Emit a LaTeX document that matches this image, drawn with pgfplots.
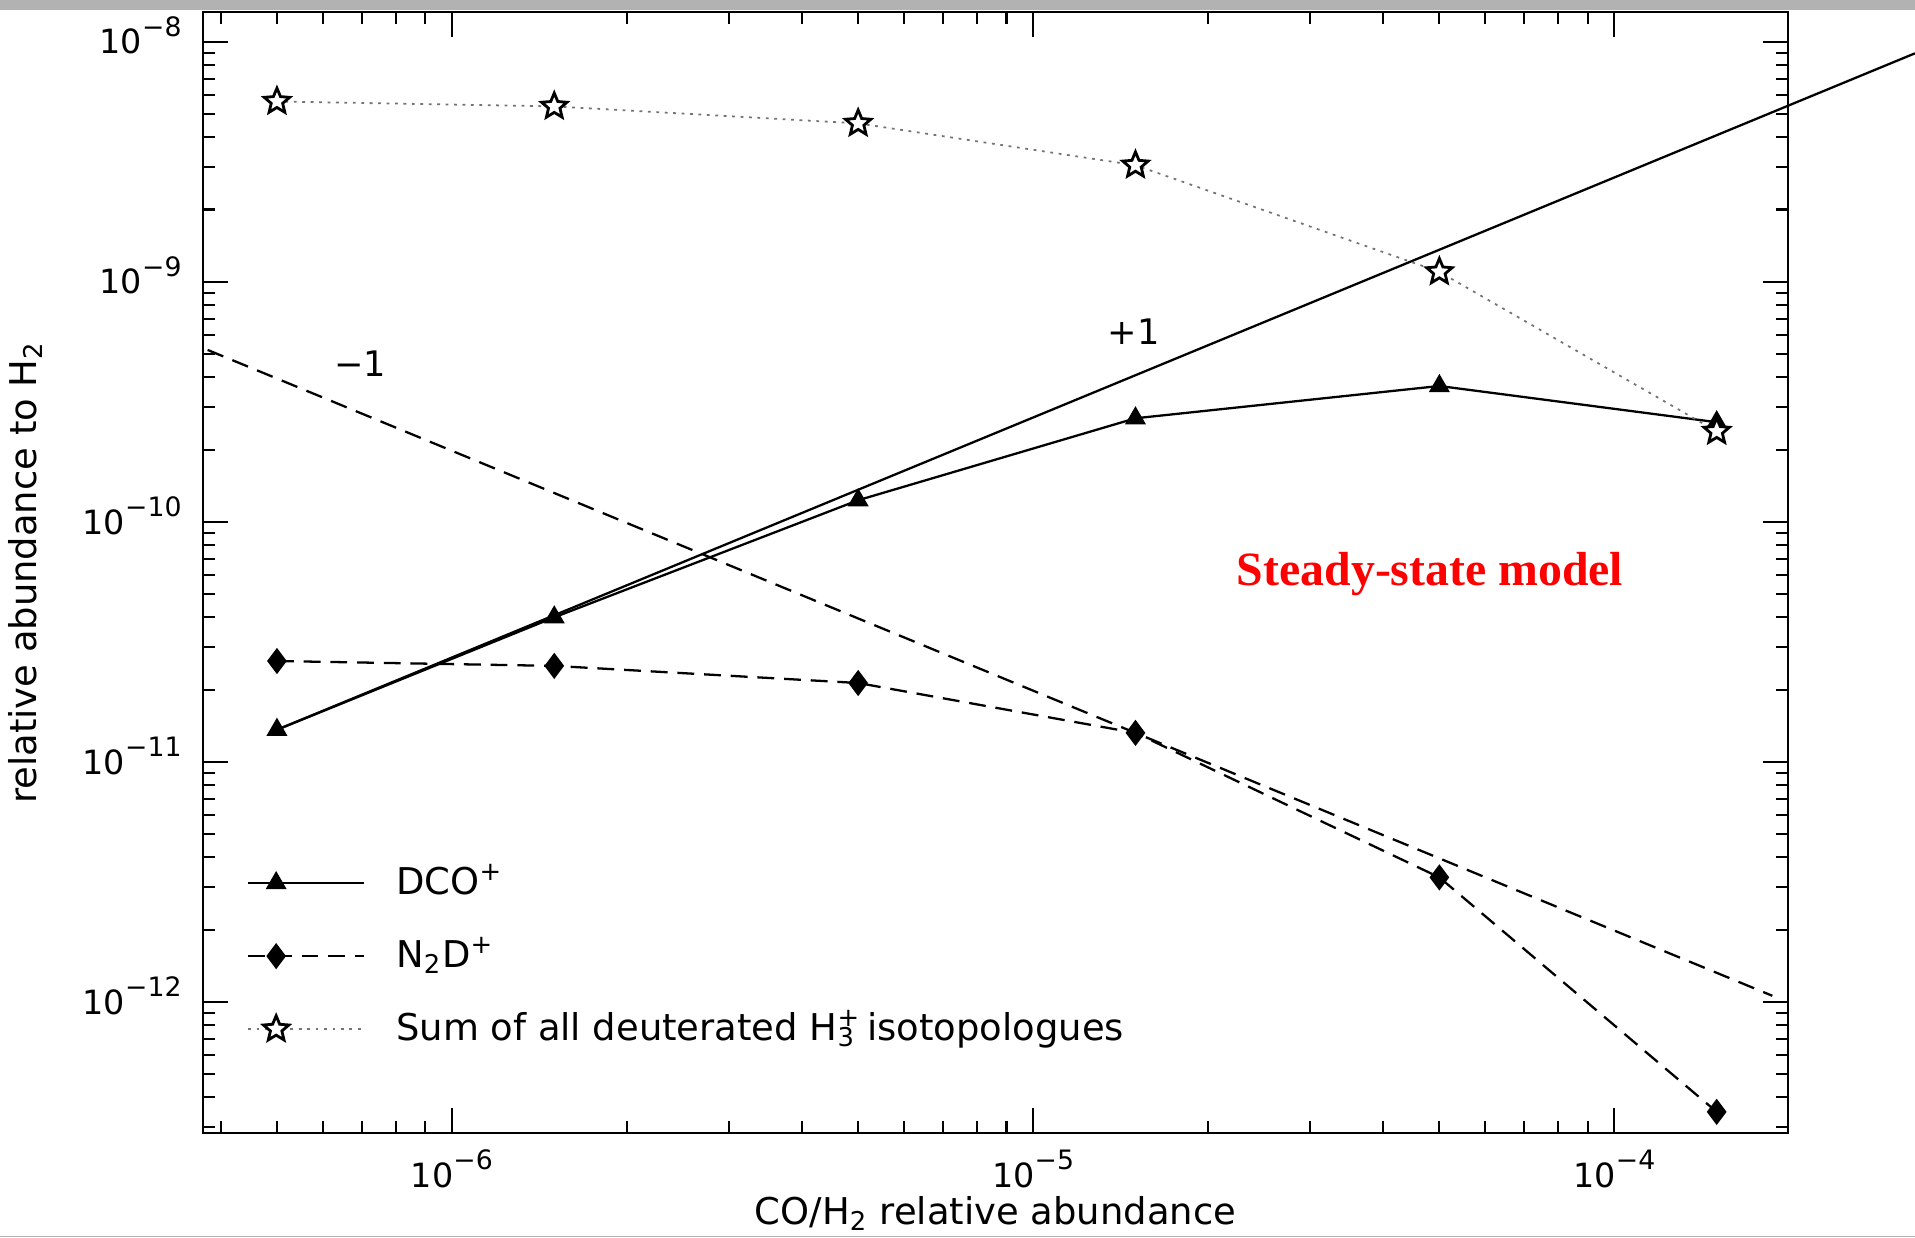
\documentclass[border=0pt]{standalone}
\usepackage{fontspec}
\setmainfont{DejaVu Sans}
\newfontfamily\timesfont{Liberation Serif}
\usepackage{pgfplots}
\pgfplotsset{compat=1.18}
\newcommand\tenexp[1]{10\raisebox{0.52em}{\fontsize{7.6}{8}\selectfont #1}}
\pgfdeclareplotmark{ostar}{%
  \pgfpathmoveto{\pgfpoint{0pt}{\pgfplotmarksize}}%
  \pgfpathlineto{\pgfpoint{-0.2645\pgfplotmarksize}{0.364\pgfplotmarksize}}%
  \pgfpathlineto{\pgfpoint{-0.951\pgfplotmarksize}{0.309\pgfplotmarksize}}%
  \pgfpathlineto{\pgfpoint{-0.428\pgfplotmarksize}{-0.139\pgfplotmarksize}}%
  \pgfpathlineto{\pgfpoint{-0.588\pgfplotmarksize}{-0.809\pgfplotmarksize}}%
  \pgfpathlineto{\pgfpoint{0pt}{-0.45\pgfplotmarksize}}%
  \pgfpathlineto{\pgfpoint{0.588\pgfplotmarksize}{-0.809\pgfplotmarksize}}%
  \pgfpathlineto{\pgfpoint{0.428\pgfplotmarksize}{-0.139\pgfplotmarksize}}%
  \pgfpathlineto{\pgfpoint{0.951\pgfplotmarksize}{0.309\pgfplotmarksize}}%
  \pgfpathlineto{\pgfpoint{0.2645\pgfplotmarksize}{0.364\pgfplotmarksize}}%
  \pgfpathclose
  \pgfusepathqfillstroke
}
\begin{document}
\begin{tikzpicture}
\begin{axis}[
  scale only axis, width=15.85cm, height=11.21cm,
  xmode=log, ymode=log,
  xmin=3.73e-7, xmax=1.99e-4, ymin=2.84e-13, ymax=1.33e-8,
  xtick={1e-6,1e-5,1e-4},
  xticklabels={\tenexp{−6},\tenexp{−5},\tenexp{−4}},
  minor xtick={4e-7,5e-7,6e-7,7e-7,8e-7,9e-7,2e-6,3e-6,4e-6,5e-6,6e-6,7e-6,8e-6,9e-6,2e-5,3e-5,4e-5,5e-5,6e-5,7e-5,8e-5,9e-5},
  ytick={1e-12,1e-11,1e-10,1e-9,1e-8},
  yticklabels={\tenexp{−12},\tenexp{−11},\tenexp{−10},\tenexp{−9},\tenexp{−8}},
  minor ytick={3e-13,4e-13,5e-13,6e-13,7e-13,8e-13,9e-13,2e-12,3e-12,4e-12,5e-12,6e-12,7e-12,8e-12,9e-12,2e-11,3e-11,4e-11,5e-11,6e-11,7e-11,8e-11,9e-11,2e-10,3e-10,4e-10,5e-10,6e-10,7e-10,8e-10,9e-10,2e-9,3e-9,4e-9,5e-9,6e-9,7e-9,8e-9,9e-9},
  tick align=inside,
  major tick length=0.25cm, minor tick length=0.12cm,
  axis line style={line width=0.8pt},
  tick style={black, line width=0.6pt},
  minor tick style={black, line width=0.6pt},
  tick label style={font=\fontsize{9.5}{11}\selectfont},
  xticklabel style={anchor=base, yshift=-0.54cm},
  yticklabel style={anchor=base east, yshift=-0.122cm, xshift=-0.09cm},
  xlabel={CO/H\textsubscript{2} relative abundance},
  ylabel={relative abundance to H\textsubscript{2}},
  xlabel style={at={(axis description cs:0.5,-0.082)}, anchor=base, font=\fontsize{10.5}{12}\selectfont},
  ylabel style={at={(axis description cs:-0.1047,0.5)}, anchor=base, font=\fontsize{10.5}{12}\selectfont},
  clip=false,
  legend style={at={(0.0278,0.2417)}, anchor=north west, draw=none, fill=none,
    inner sep=0pt, outer sep=0pt, row sep=0.31cm, column sep=0.31cm,
    font=\fontsize{10.5}{12}\selectfont,
    nodes={inner sep=0pt, text height=0.32cm, text depth=0.1cm}},
  legend cell align=left,
  legend image code/.code={\draw[mark repeat=2,mark phase=2] plot coordinates {(0cm,0cm) (0.28cm,0cm) (1.16cm,0cm)};},
]
% slope +1 and -1 reference lines
\addplot[black, line width=0.65pt, forget plot] coordinates {(5e-7,1.36e-11) (3.29e-4,8.95e-9)};
\addplot[black, line width=0.65pt, dash pattern=on 4.8pt off 2.8pt, forget plot] coordinates {(3.8e-7,5.2e-10) (1.87e-4,1.06e-12)};

\addplot[black, line width=0.65pt, mark=triangle*, mark size=2.8pt, mark options={solid}] coordinates {
  (5e-7,1.36e-11) (1.5e-6,4.0e-11) (5e-6,1.23e-10) (1.5e-5,2.70e-10) (5e-5,3.68e-10) (1.5e-4,2.6e-10)};
\addlegendentry{DCO\textsuperscript{+}}
\addplot[black, line width=0.65pt, dash pattern=on 4.8pt off 2.8pt, mark=diamond*, mark size=3.2pt, mark options={solid}] coordinates {
  (5e-7,2.63e-11) (1.5e-6,2.51e-11) (5e-6,2.13e-11) (1.5e-5,1.32e-11) (5e-5,3.3e-12) (1.5e-4,3.48e-13)};
\addlegendentry{N\textsubscript{2}D\textsuperscript{+}}
\addplot[black!55, line width=0.5pt, dash pattern=on 0.8pt off 1.6pt, mark=ostar, mark size=3.8pt, mark options={solid, draw=black, fill=white, line width=0.8pt}] coordinates {
  (5e-7,5.64e-9) (1.5e-6,5.38e-9) (5e-6,4.57e-9) (1.5e-5,3.06e-9) (5e-5,1.1e-9) (1.5e-4,2.38e-10)};
\addlegendentry{Sum of all deuterated H\rlap{\textsuperscript{+}}\textsubscript{3} isotopologues}

\node[font=\fontsize{10}{12}\selectfont] at (axis cs:6.95e-7,4.54e-10) {−1};
\node[font=\fontsize{10}{12}\selectfont] at (axis cs:1.49e-5,6.17e-10) {+1};
\node[font=\timesfont\bfseries\fontsize{13.6}{16}\selectfont, text=red] at (axis cs:4.82e-5,6.06e-11) {Steady-state model};
\end{axis}
\fill[black!30] (-2.03cm,11.23cm) rectangle (17.12cm,11.33cm);
\fill[black!30] (-2.03cm,-1.04cm) rectangle (17.12cm,-1.025cm);
\pgfresetboundingbox
\path[use as bounding box] (-2.03cm,-1.04cm) rectangle (17.12cm,11.33cm);
\end{tikzpicture}
\end{document}
